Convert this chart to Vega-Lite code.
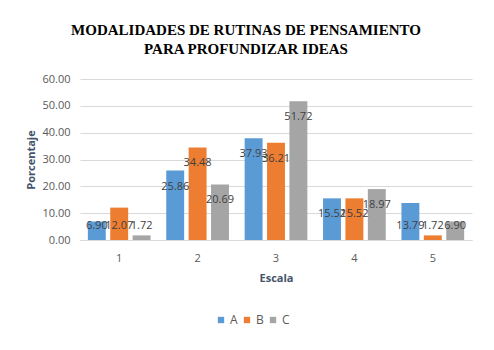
{
  "$schema": "https://vega.github.io/schema/vega-lite/v6.json",
  "width": 392,
  "height": 161,
  "autosize": {"type": "none"},
  "padding": {"left": 80, "top": 79, "right": 22, "bottom": 110},
  "background": "white",
  "title": {
    "text": ["MODALIDADES DE RUTINAS DE PENSAMIENTO", "PARA PROFUNDIZAR IDEAS"],
    "font": "Liberation Serif",
    "fontSize": 15,
    "fontWeight": "bold",
    "color": "#000000",
    "lineHeight": 19,
    "anchor": "middle",
    "dx": -30,
    "offset": 16
  },
  "data": {
    "values": [
      {"escala": "1", "grupo": "A", "valor": 6.90},
      {"escala": "1", "grupo": "B", "valor": 12.07},
      {"escala": "1", "grupo": "C", "valor": 1.72},
      {"escala": "2", "grupo": "A", "valor": 25.86},
      {"escala": "2", "grupo": "B", "valor": 34.48},
      {"escala": "2", "grupo": "C", "valor": 20.69},
      {"escala": "3", "grupo": "A", "valor": 37.93},
      {"escala": "3", "grupo": "B", "valor": 36.21},
      {"escala": "3", "grupo": "C", "valor": 51.72},
      {"escala": "4", "grupo": "A", "valor": 15.52},
      {"escala": "4", "grupo": "B", "valor": 15.52},
      {"escala": "4", "grupo": "C", "valor": 18.97},
      {"escala": "5", "grupo": "A", "valor": 13.79},
      {"escala": "5", "grupo": "B", "valor": 1.72},
      {"escala": "5", "grupo": "C", "valor": 6.90}
    ]
  },
  "encoding": {
    "x": {
      "field": "escala",
      "type": "nominal",
      "scale": {"paddingInner": 0.2, "paddingOuter": 0.1},
      "axis": {
        "title": "Escala",
        "labelAngle": 0,
        "labelFont": "Open Sans",
        "labelFontSize": 11,
        "labelColor": "#595959",
        "labelPadding": 12,
        "ticks": false,
        "domainColor": "#D9D9D9",
        "titleFont": "Open Sans",
        "titleFontSize": 11,
        "titleFontWeight": "bold",
        "titleColor": "#44546A",
        "titlePadding": 9
      }
    },
    "xOffset": {"field": "grupo", "type": "nominal", "scale": {"paddingInner": 0.2}},
    "y": {
      "field": "valor",
      "type": "quantitative",
      "scale": {"domain": [0, 60]},
      "axis": {
        "title": "Porcentaje",
        "values": [0, 10, 20, 30, 40, 50, 60],
        "format": ".2f",
        "labelFont": "Open Sans",
        "labelFontSize": 11,
        "labelColor": "#595959",
        "labelPadding": 10,
        "ticks": false,
        "domain": false,
        "gridColor": "#D9D9D9",
        "titleFont": "Open Sans",
        "titleFontSize": 11,
        "titleFontWeight": "bold",
        "titleColor": "#44546A",
        "titlePadding": 5
      }
    }
  },
  "layer": [
    {
      "mark": {"type": "bar"},
      "encoding": {
        "color": {
          "field": "grupo",
          "type": "nominal",
          "scale": {"domain": ["A", "B", "C"], "range": ["#5B9BD5", "#ED7D31", "#A5A5A5"]},
          "legend": {
            "title": null,
            "orient": "none",
            "direction": "horizontal",
            "legendX": 135,
            "legendY": 235,
            "padding": 0,
            "symbolType": "square",
            "symbolSize": 40,
            "symbolStrokeWidth": 0,
            "labelFont": "Open Sans",
            "labelFontSize": 12,
            "labelColor": "#595959",
            "labelOffset": 3,
            "columnPadding": 3
          }
        }
      }
    },
    {
      "transform": [{"filter": "datum.valor >= 14"}],
      "mark": {"type": "text", "dy": 16, "baseline": "middle", "font": "Open Sans", "fontSize": 11, "color": "#404040"},
      "encoding": {"text": {"field": "valor", "type": "quantitative", "format": ".2f"}}
    },
    {
      "transform": [{"filter": "datum.valor < 14"}],
      "mark": {"type": "text", "dy": -14, "baseline": "middle", "font": "Open Sans", "fontSize": 11, "color": "#404040"},
      "encoding": {
        "y": {
          "datum": 0,
          "type": "quantitative",
          "scale": {"domain": [0, 60]},
          "axis": {
            "title": "Porcentaje",
            "values": [0, 10, 20, 30, 40, 50, 60],
            "format": ".2f",
            "labelFont": "Open Sans",
            "labelFontSize": 11,
            "labelColor": "#595959",
            "labelPadding": 10,
            "ticks": false,
            "domain": false,
            "gridColor": "#D9D9D9",
            "titleFont": "Open Sans",
            "titleFontSize": 11,
            "titleFontWeight": "bold",
            "titleColor": "#44546A",
            "titlePadding": 5
          }
        },
        "text": {"field": "valor", "type": "quantitative", "format": ".2f"}
      }
    }
  ],
  "config": {"view": {"stroke": null}}
}
